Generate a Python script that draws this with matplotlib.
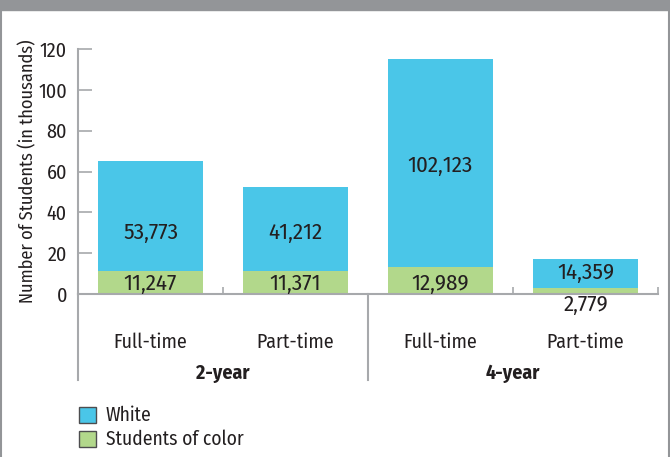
import matplotlib
matplotlib.use("Agg")
import matplotlib.pyplot as plt
from matplotlib.patches import Rectangle
from matplotlib.lines import Line2D

plt.rcParams['font.family'] = ['Fira Sans Condensed', 'DejaVu Sans']

# enrollment, thousands of students
categories = ["Full-time", "Part-time", "Full-time", "Part-time"]
groups = ["2-year", "4-year"]
white = [53.773, 41.212, 102.123, 14.359]
color = [11.247, 11.371, 12.989, 2.779]
white_labels = ["53,773", "41,212", "102,123", "14,359"]
color_labels = ["11,247", "11,371", "12,989", "2,779"]
white_label_y = [30, 30, 63, 10.5]
color_label_y = [5, 5, 5, -5.5]

BLUE = "#4ac6e8"
GREEN = "#b2d88b"
GRID = "#a7a9ac"
TXT = "#231f20"

W, H = 670, 457
fig = plt.figure(figsize=(W / 100, H / 100), dpi=100)

# page frame: gray band on top and thin side rules
fig.patches.append(Rectangle((0, 1 - 10 / H), 1, 10 / H, transform=fig.transFigure,
                             color="#939598", zorder=0))
fig.lines.append(Line2D([1 / W, 1 / W], [0, 1], transform=fig.transFigure, color="#939598", lw=1.5))
fig.lines.append(Line2D([1 - 1 / W, 1 - 1 / W], [0, 1], transform=fig.transFigure, color="#939598", lw=1.5))

x0, x1, y0, y1 = 78, 658, 294, 49
ax = fig.add_axes([x0 / W, 1 - y0 / H, (x1 - x0) / W, (y0 - y1) / H])

def ypix(p):
    # pixel row -> axes fraction
    return (y0 - p) / (y0 - y1)

xs = range(len(categories))
ax.bar(xs, color, width=0.724, color=GREEN, zorder=2)
ax.bar(xs, white, width=0.724, bottom=color, color=BLUE, zorder=2)

for i in xs:
    ax.text(i, white_label_y[i], white_labels[i], ha="center", va="center",
            fontsize=16.5, color=TXT, zorder=3)
    ax.text(i, color_label_y[i], color_labels[i], ha="center", va="center",
            fontsize=16.5, color=TXT, zorder=3, clip_on=False)

ax.set_xlim(-0.5, 3.5)
ax.set_ylim(0, 120)
ax.set_yticks(range(0, 121, 20))
ax.tick_params(axis="y", direction="in", length=10, width=1.2, color=GRID,
               labelsize=14.5, labelcolor=TXT, pad=8)
ax.set_xticks([0.5, 2.5, 3.5])
ax.set_xticklabels([])
ax.tick_params(axis="x", direction="in", length=5, width=1.2, color=GRID)

for s in ["top", "right"]:
    ax.spines[s].set_visible(False)
for s in ["left", "bottom"]:
    ax.spines[s].set_color(GRID)
    ax.spines[s].set_linewidth(1.5)

ax.set_ylabel("Number of Students (in thousands)", fontsize=13.2, color=TXT, labelpad=1)

# category and group labels below the axis
for i, c in enumerate(categories):
    ax.text(i, ypix(342), c, transform=ax.get_xaxis_transform(), ha="center", va="center",
            fontsize=14.3, color=TXT)
for j, g in enumerate(groups):
    ax.text(0.5 + 2 * j, ypix(373), g, transform=ax.get_xaxis_transform(), ha="center",
            va="center", fontsize=14.3, fontweight="bold", color=TXT)
for xv in [-0.5, 1.5]:
    ax.plot([xv, xv], [0, ypix(380)], transform=ax.get_xaxis_transform(), color=GRID,
            lw=1.5, clip_on=False)

# legend
for k, (lab, col) in enumerate([("White", BLUE), ("Students of color", GREEN)]):
    top = 407 + k * 24
    fig.patches.append(Rectangle((79 / W, 1 - (top + 16) / H), 17 / W, 16 / H,
                                 transform=fig.transFigure, facecolor=col,
                                 edgecolor="#4d4d4f", lw=1))
    fig.text(106 / W, 1 - (top + 8) / H, lab, ha="left", va="center", fontsize=14, color=TXT)

fig.savefig("out.png", dpi=100)
